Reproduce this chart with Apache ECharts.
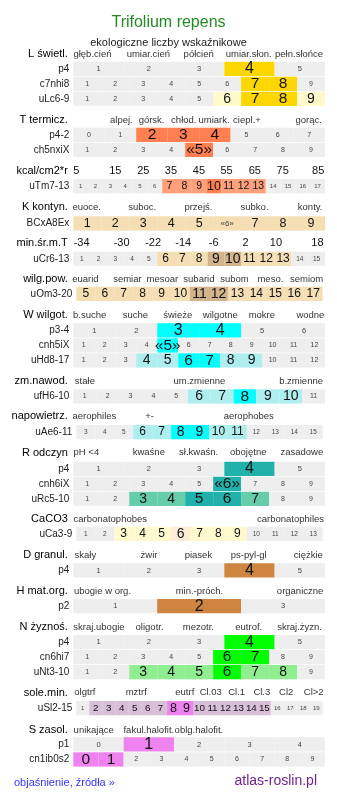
<!DOCTYPE html>
<html><head><meta charset="utf-8">
<script src="https://cdn.jsdelivr.net/npm/echarts@6/dist/echarts.min.js"></script>
<style>html,body{margin:0;padding:0;background:#fff}#c{width:337px;height:796px}</style>
</head><body><div id="c"></div>
<script>
// ---------- DATA ----------
const titleText = 'Trifolium repens';
const subtitleText = 'ekologiczne liczby wskaźnikowe';
const footerLeft = 'objaśnienie, źródła »';
const footerRight = 'atlas-roslin.pl';

const hdrL = ['głęb.cień','umiar.cień','półcień','umiar.słon.','pełn.słońce'];
const hdrT = ['alpej.','górsk.','chłod.','umiark.','ciepl.+','gorąc.'];
const hdrKcal = ['5','15','25','35','45','55','65','75','85'];
const hdrK = ['euoce.','suboc.','przejś.','subko.','konty.'];
const hdrMin = ['-34','-30','-22','-14','-6','2','10','18'];
const hdrWilg = ['euarid','semiar','mesoar','subarid','subom','meso.','semiom'];
const hdrW = ['b.suche','suche','świeże','wilgotne','mokre','wodne'];
const hdrZm = ['stałe','um.zmienne','b.zmienne'];
const hdrNap = ['aerophiles','+-','aerophobes'];
const hdrR = ['pH <4','kwaśne','sł.kwaśn.','obojętne','zasadowe'];
const hdrCa = ['carbonatophobes','carbonatophiles'];
const hdrD = ['skały','żwir','piasek','ps-pyl-gl','ciężkie'];
const hdrH = ['ubogie w org.','min.-próch.','organiczne'];
const hdrN = ['skraj.ubogie','oligotr.','mezotr.','eutrof.','skraj.żyzn.'];
const hdrSole = ['olgtrf','mztrf','eutrf','Cl.03','Cl.1','Cl.3','Cl2','Cl>2'];
const hdrS = ['unikające','fakul.halofit.','oblg.halofit.'];

// rows: [label, cell texts, level (0 = off, 1 = range, 2 = optimum)]
const rowsL = [
  ['p4', ['1','2','3','4','5'], [0,0,0,2,0]],
  ['c7nhi8', ['1','2','3','4','5','6','7','8','9'], [0,0,0,0,0,0,2,2,0]],
  ['uLc6-9', ['1','2','3','4','5','6','7','8','9'], [0,0,0,0,0,1,2,2,1]]
];
const rowsT = [
  ['p4-2', ['0','1','2','3','4','5','6','7'], [0,0,2,2,2,0,0,0]],
  ['ch5nxiX', ['1','2','3','4','«5»','6','7','8','9'], [0,0,0,0,2,0,0,0,0]]
];
const rowsKcal = [
  ['uTm7-13', ['1','2','3','4','5','6','7','8','9','10','11','12','13','14','15','16','17'], [0,0,0,0,0,0,1,1,1,2,1,1,1,0,0,0,0]]
];
const rowsK = [
  ['BCxA8Ex', ['1','2','3','4','5','«6»','7','8','9'], [1,1,1,1,1,0,1,1,1]]
];
const rowsMin = [
  ['uCr6-13', ['1','2','3','4','5','6','7','8','9','10','11','12','13','14','15'], [0,0,0,0,0,1,1,1,2,2,1,1,1,0,0]]
];
const rowsWilg = [
  ['uOm3-20', ['5','6','7','8','9','10','11','12','13','14','15','16','17'], [1,1,1,1,1,1,2,2,1,1,1,1,1]]
];
const rowsW = [
  ['p3-4', ['1','2','3','4','5','6'], [0,0,2,2,0,0]],
  ['cnh5iX', ['1','2','3','4','«5»','6','7','8','9','10','11','12'], [0,0,0,0,2,0,0,0,0,0,0,0]],
  ['uHd8-17', ['1','2','3','4','5','6','7','8','9','10','11','12'], [0,0,0,1,1,2,2,1,1,0,0,0]]
];
const rowsZm = [
  ['ufH6-10', ['1','2','3','4','5','6','7','8','9','10','11'], [0,0,0,0,0,1,1,2,1,1,0]]
];
const rowsNap = [
  ['uAe6-11', ['3','4','5','6','7','8','9','10','11','12','13','14','15'], [0,0,0,1,1,2,2,1,1,0,0,0,0]]
];
const rowsR = [
  ['p4', ['1','2','3','4','5'], [0,0,0,2,0]],
  ['cnh6iX', ['1','2','3','4','5','«6»','7','8','9'], [0,0,0,0,0,2,0,0,0]],
  ['uRc5-10', ['1','2','3','4','5','6','7','8','9'], [0,0,1,1,2,2,1,0,0]]
];
const rowsCa = [
  ['uCa3-9', ['1','2','3','4','5','6','7','8','9','10','11','12','13'], [0,0,1,1,1,2,1,1,1,0,0,0,0]]
];
const rowsD = [
  ['p4', ['1','2','3','4','5'], [0,0,0,2,0]]
];
const rowsH = [
  ['p2', ['1','2','3'], [0,2,0]]
];
const rowsN = [
  ['p4', ['1','2','3','4','5'], [0,0,0,2,0]],
  ['cn6hi7', ['1','2','3','4','5','6','7','8','9'], [0,0,0,0,0,2,2,0,0]],
  ['uNt3-10', ['1','2','3','4','5','6','7','8','9'], [0,0,1,1,1,2,1,1,0]]
];
const rowsSole = [
  ['uSl2-15', ['1','2','3','4','5','6','7','8','9','10','11','12','13','14','15','16','17','18','19'], [0,1,1,1,1,1,1,2,2,1,1,1,1,1,1,0,0,0,0]]
];
const rowsS = [
  ['p1', ['0','1','2','3','4'], [0,2,0,0,0]],
  ['cn1ib0s2', ['0','1','2','3','4','5','6','7','8','9'], [2,2,0,0,0,0,0,0,0,0]]
];

// ---------- LAYOUT / STYLE ----------
const F = "'Liberation Sans', Arial, sans-serif";
const GRAY = '#eeeeee';
const GX = 73.3, GW = 251.7, GX2 = 76.3, GW2 = 246.4, RH = 14.3, RP = 15;

const sections = [
  {title:'L świetl.', hdr:hdrL, pos:[0.076,0.298,0.498,0.697,0.897], hy:54, top:61.7, rows:rowsL, pal:[GRAY,'#fff9cc','#ffd700']},
  {title:'T termicz.', hdr:hdrT, pos:[0.191,0.311,0.439,0.559,0.690,0.935], hy:120, top:127.7, rows:rowsT, pal:[GRAY,'#ffa07a','#ff7f50']},
  {title:'kcal/cm2*r', hdr:hdrKcal, pos:[0.012,0.167,0.278,0.388,0.499,0.609,0.721,0.832,0.973], hy:171, top:179, rows:rowsKcal, pal:[GRAY,'#ffa07a','#ff7f50'], num:true},
  {title:'K kontyn.', hdr:hdrK, pos:[0.053,0.274,0.497,0.720,0.941], hy:207, top:216.3, rows:rowsK, pal:['#f5deb3','#f5deb3','#f5deb3'], fonts:[8,12.5,12.5]},
  {title:'min.śr.m.T', hdr:hdrMin, pos:[0.033,0.192,0.317,0.437,0.558,0.684,0.805,0.970], hy:242.7, top:251.7, rows:rowsMin, pal:[GRAY,'#f5deb3','#d2b48c'], num:true},
  {title:'wilg.pow.', hdr:hdrWilg, pos:[0.048,0.215,0.354,0.499,0.640,0.783,0.927], hy:279, top:286.7, rows:rowsWilg, pal:[GRAY,'#f5deb3','#d2b48c'], shifted:true},
  {title:'W wilgot.', hdr:hdrW, pos:[0.065,0.247,0.415,0.584,0.749,0.942], hy:315, top:323.3, rows:rowsW, pal:[GRAY,'#afeeee','#00ffff']},
  {title:'zm.nawod.', hdr:hdrZm, pos:[0.046,0.501,0.905], hy:381, top:389.3, rows:rowsZm, pal:[GRAY,'#afeeee','#00ffff']},
  {title:'napowietrz.', hdr:hdrNap, pos:[0.084,0.303,0.697], hy:416, top:425, rows:rowsNap, pal:[GRAY,'#afeeee','#00ffff'], shifted:true},
  {title:'R odczyn', hdr:hdrR, pos:[0.052,0.300,0.498,0.695,0.908], hy:452.7, top:461.7, rows:rowsR, pal:[GRAY,'#66cdaa','#20b2aa']},
  {title:'CaCO3', hdr:hdrCa, pos:[0.147,0.863], hy:519, top:526.7, rows:rowsCa, pal:[GRAY,'#fffacd','#fdecd8'], shifted:true},
  {title:'D granul.', hdr:hdrD, pos:[0.048,0.301,0.497,0.697,0.934], hy:555, top:563.3, rows:rowsD, pal:[GRAY,'#cd853f','#cd853f']},
  {title:'H mat.org.', hdr:hdrH, pos:[0.116,0.501,0.901], hy:591, top:599, rows:rowsH, pal:[GRAY,'#cd853f','#cd853f']},
  {title:'N żyznoś.', hdr:hdrN, pos:[0.102,0.303,0.497,0.697,0.899], hy:627, top:635, rows:rowsN, pal:[GRAY,'#90ee90','#00ff00']},
  {title:'sole.min.', hdr:hdrSole, pos:[0.046,0.250,0.443,0.546,0.649,0.749,0.846,0.955], hy:692.7, top:701, rows:rowsSole, pal:[GRAY,'#d8bfd8','#ee82ee'], shifted:true},
  {title:'S zasol.', hdr:hdrS, pos:[0.081,0.300,0.499], hy:730, top:737.3, rows:rowsS, pal:[GRAY,'#ee82ee','#ee82ee']}
];

const grids = [], xAxes = [], yAxes = [], series = [];
function hiddenY(idx, name, gap, fs, color){
  return {gridIndex:idx, type:'value', min:0, max:1, axisLine:{show:false}, axisTick:{show:false},
    axisLabel:{show:false}, splitLine:{show:false}, name:name, nameLocation:'middle', nameRotate:0, nameGap:gap,
    nameTextStyle:{fontSize:fs, color:color, align:'right', verticalAlign:'middle', fontFamily:F}};
}
function addHeader(s){
  const idx = grids.length;
  grids.push({left:GX, top:s.hy-6, width:GW, height:12});
  xAxes.push({gridIndex:idx, type:'value', min:0, max:1, show:false});
  yAxes.push(hiddenY(idx, s.title, 5.5, 11, '#000'));
  const labels = s.hdr, pos = s.pos;
  series.push({type:'custom', xAxisIndex:idx, yAxisIndex:idx, silent:true, clip:false,
    data: labels.map((t,i)=>[pos[i], 0.5]),
    renderItem:(p, api)=>{
      const pt = api.coord([api.value(0), api.value(1)]);
      return {type:'text', x:pt[0], y:pt[1], style:{text:labels[p.dataIndex], fontSize:s.num?11:9.5,
        fontFamily:F, fill:s.num?'#111':'#333', align:'center', verticalAlign:'middle'}};
    }});
}
function addRow(row, top, s){
  const [label, cells, lv] = row;
  const left = s.shifted ? GX2 : GX, width = s.shifted ? GW2 : GW;
  const cw = width / cells.length;
  const fonts = s.fonts || (cw >= 40 ? [7.5,14,16] : cw >= 20 ? [7,14,15.5] : cw >= 16 ? [6.5,12,14] : cw >= 14 ? [6,10.5,12.5] : [6,9.8,12.5]);
  const idx = grids.length;
  grids.push({left:left, top:top, width:width, height:RH});
  xAxes.push({gridIndex:idx, type:'category', data:cells, show:false, boundaryGap:true});
  yAxes.push(hiddenY(idx, label, 4, 10, '#222'));
  series.push({type:'bar', xAxisIndex:idx, yAxisIndex:idx, silent:true, barWidth:'100%', barGap:'0%', barCategoryGap:'0%',
    data: lv.map((l,i)=>({value:1, itemStyle:{color:s.pal[l]},
      label:{show:true, position:'inside', formatter:cells[i], fontSize:fonts[l], fontFamily:F,
        color: l ? '#111' : '#444'}}))});
}
sections.forEach(s=>{
  addHeader(s);
  s.rows.forEach((r,i)=>addRow(r, s.top + i*RP, s));
});

const chart = echarts.init(document.getElementById('c'), null, {renderer:'canvas'});
chart.setOption({
  animation:false,
  backgroundColor:'#fff',
  title:[
    {text:titleText, left:'center', top:10, textStyle:{fontSize:16, color:'#228b22', fontWeight:'normal', fontFamily:F}},
    {text:subtitleText, left:'center', top:32, textStyle:{fontSize:11, color:'#222', fontWeight:'normal', fontFamily:F}},
    {text:footerLeft, left:9, top:772, textStyle:{fontSize:11, color:'#3333ff', fontWeight:'normal', fontFamily:F}},
    {text:footerRight, right:15, top:769, textStyle:{fontSize:14, color:'#70208f', fontWeight:'normal', fontFamily:F}}
  ],
  grid:grids, xAxis:xAxes, yAxis:yAxes, series:series
});
</script></body></html>
